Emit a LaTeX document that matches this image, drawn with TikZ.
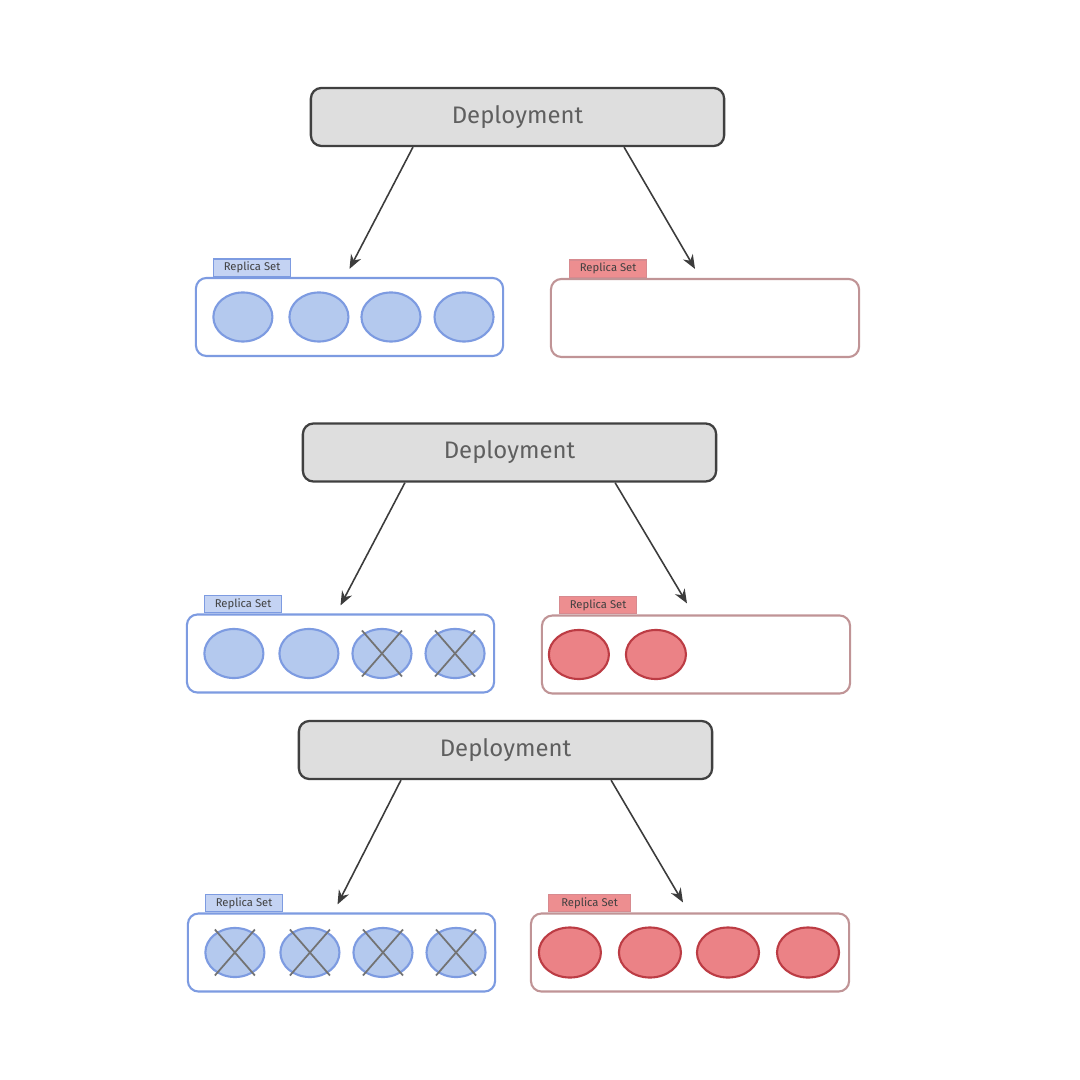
\documentclass[tikz,border=0pt]{standalone}
\usepackage{fontspec}
\setsansfont{Fira Sans}
\usetikzlibrary{shapes.geometric}
\usetikzlibrary{positioning}
\usetikzlibrary{arrows.meta}
\definecolor{deployfill}{RGB}{222,222,222}
\definecolor{deployline}{RGB}{64,64,64}
\definecolor{blueline}{RGB}{125,155,225}
\definecolor{bluefill}{RGB}{180,201,238}
\definecolor{bluetab}{RGB}{196,211,243}
\definecolor{redline}{RGB}{188,60,68}
\definecolor{redfill}{RGB}{235,130,134}
\definecolor{redbox}{RGB}{192,148,150}
\definecolor{redtab}{RGB}{237,142,144}
\definecolor{arrowgray}{RGB}{60,60,60}
\definecolor{textgray}{RGB}{95,95,95}
\tikzset{
    deploy/.style = {rectangle, rounded corners=3pt, line width=0.65pt, draw=deployline, fill=deployfill, minimum width=4.13cm, minimum height=0.58cm, font=\sffamily\fontsize{6.8}{8}\selectfont, text=textgray},
    rsblue/.style = {rectangle, rounded corners=3pt, line width=0.6pt, draw=blueline, fill=white, minimum width=3.07cm, minimum height=0.78cm},
    rsred/.style = {rectangle, rounded corners=3pt, line width=0.6pt, draw=redbox, fill=white, minimum width=3.08cm, minimum height=0.78cm},
    tabblue/.style = {rectangle, line width=0.4pt, draw=blueline, fill=bluetab, minimum width=0.77cm, minimum height=0.17cm, inner sep=0pt, font=\sffamily\fontsize{3.2}{4}\selectfont, text=black!75},
    tabred/.style = {rectangle, line width=0.4pt, draw=redline!60, fill=redtab, minimum width=0.77cm, minimum height=0.17cm, inner sep=0pt, font=\sffamily\fontsize{3.2}{4}\selectfont, text=black!75},
    podblue/.style = {ellipse, line width=0.6pt, draw=blueline, fill=bluefill, minimum width=0.59cm, minimum height=0.49cm, inner sep=0pt},
    podred/.style = {ellipse, line width=0.6pt, draw=redline, fill=redfill, minimum width=0.6cm, minimum height=0.49cm, inner sep=0pt},
    edgea/.style = {-{Stealth[length=4pt,width=3.2pt]}, line width=0.45pt, arrowgray},
    crossline/.style = {line width=0.5pt, black!55}
}
\begin{document}
\begin{tikzpicture}[x=0.01cm, y=-0.01cm]
  \useasboundingbox (0,0) rectangle (1080,1080);
  % first step
  \node[deploy] (d1) at (517.5,117) {Deployment};
  \node[rsblue] (l1) at (349.5,317) {};
  \node[rsred] (r1) at (705,318) {};
  \node[tabblue, above right=0cm and 0.18cm of l1.north west, anchor=south west] (tl1) {Replica Set};
  \node[tabred, above right=0cm and 0.19cm of r1.north west, anchor=south west] (tr1) {Replica Set};
  \foreach \o [count=\i] in {0.48,1.24,1.96,2.69}
    \node[podblue] (l1p\i) at ([xshift=\o cm]l1.west) {};
  \draw[edgea] ([xshift=-1.045cm]d1.south) -- ([yshift=0.08cm]l1.north);
  \draw[edgea] ([xshift=1.065cm]d1.south) -- ([xshift=-0.1cm,yshift=0.09cm]r1.north);
  % second step
  \node[deploy] (d2) at (509.5,452.5) {Deployment};
  \node[rsblue] (l2) at (340.5,653.5) {};
  \node[rsred] (r2) at (696,654.5) {};
  \node[tabblue, above right=0cm and 0.18cm of l2.north west, anchor=south west] (tl2) {Replica Set};
  \node[tabred, above right=0cm and 0.18cm of r2.north west, anchor=south west] (tr2) {Replica Set};
  \foreach \o [count=\i] in {0.48,1.23,1.96,2.69}
    \node[podblue] (l2p\i) at ([xshift=\o cm]l2.west) {};
  \foreach \o [count=\i] in {0.38,1.15}
    \node[podred] (r2p\i) at ([xshift=\o cm]r2.west) {};
  \foreach \p in {l2p3,l2p4} {
    \draw[crossline] ([shift={(-20,-23)}]\p.center) -- ([shift={(20,23)}]\p.center);
    \draw[crossline] ([shift={(20,-23)}]\p.center) -- ([shift={(-20,23)}]\p.center);
  }
  \draw[edgea] ([xshift=-1.045cm]d2.south) -- ([yshift=0.08cm]l2.north);
  \draw[edgea] ([xshift=1.055cm]d2.south) -- ([xshift=-0.09cm,yshift=0.11cm]r2.north);
  % third step
  \node[deploy] (d3) at (505.5,750) {Deployment};
  \node[rsblue] (l3) at (341.5,952.5) {};
  \node[rsred, minimum width=3.18cm] (r3) at (690,952.5) {};
  \node[tabblue, above right=0cm and 0.18cm of l3.north west, anchor=south west] (tl3) {Replica Set};
  \node[tabred, minimum width=0.82cm, above right=0cm and 0.18cm of r3.north west, anchor=south west] (tr3) {Replica Set};
  \foreach \o [count=\i] in {0.48,1.23,1.96,2.69}
    \node[podblue] (l3p\i) at ([xshift=\o cm]l3.west) {};
  \foreach \o [count=\i] in {0.40,1.20,1.98,2.78}
    \node[podred, minimum width=0.62cm, minimum height=0.5cm] (r3p\i) at ([xshift=\o cm]r3.west) {};
  \foreach \p in {l3p1,l3p2,l3p3,l3p4} {
    \draw[crossline] ([shift={(-20,-23)}]\p.center) -- ([shift={(20,23)}]\p.center);
    \draw[crossline] ([shift={(20,-23)}]\p.center) -- ([shift={(-20,23)}]\p.center);
  }
  \draw[edgea] ([xshift=-1.045cm]d3.south) -- ([xshift=-0.04cm,yshift=0.08cm]l3.north);
  \draw[edgea] ([xshift=1.055cm]d3.south) -- ([xshift=-0.07cm,yshift=0.10cm]r3.north);
\end{tikzpicture}
\end{document}
